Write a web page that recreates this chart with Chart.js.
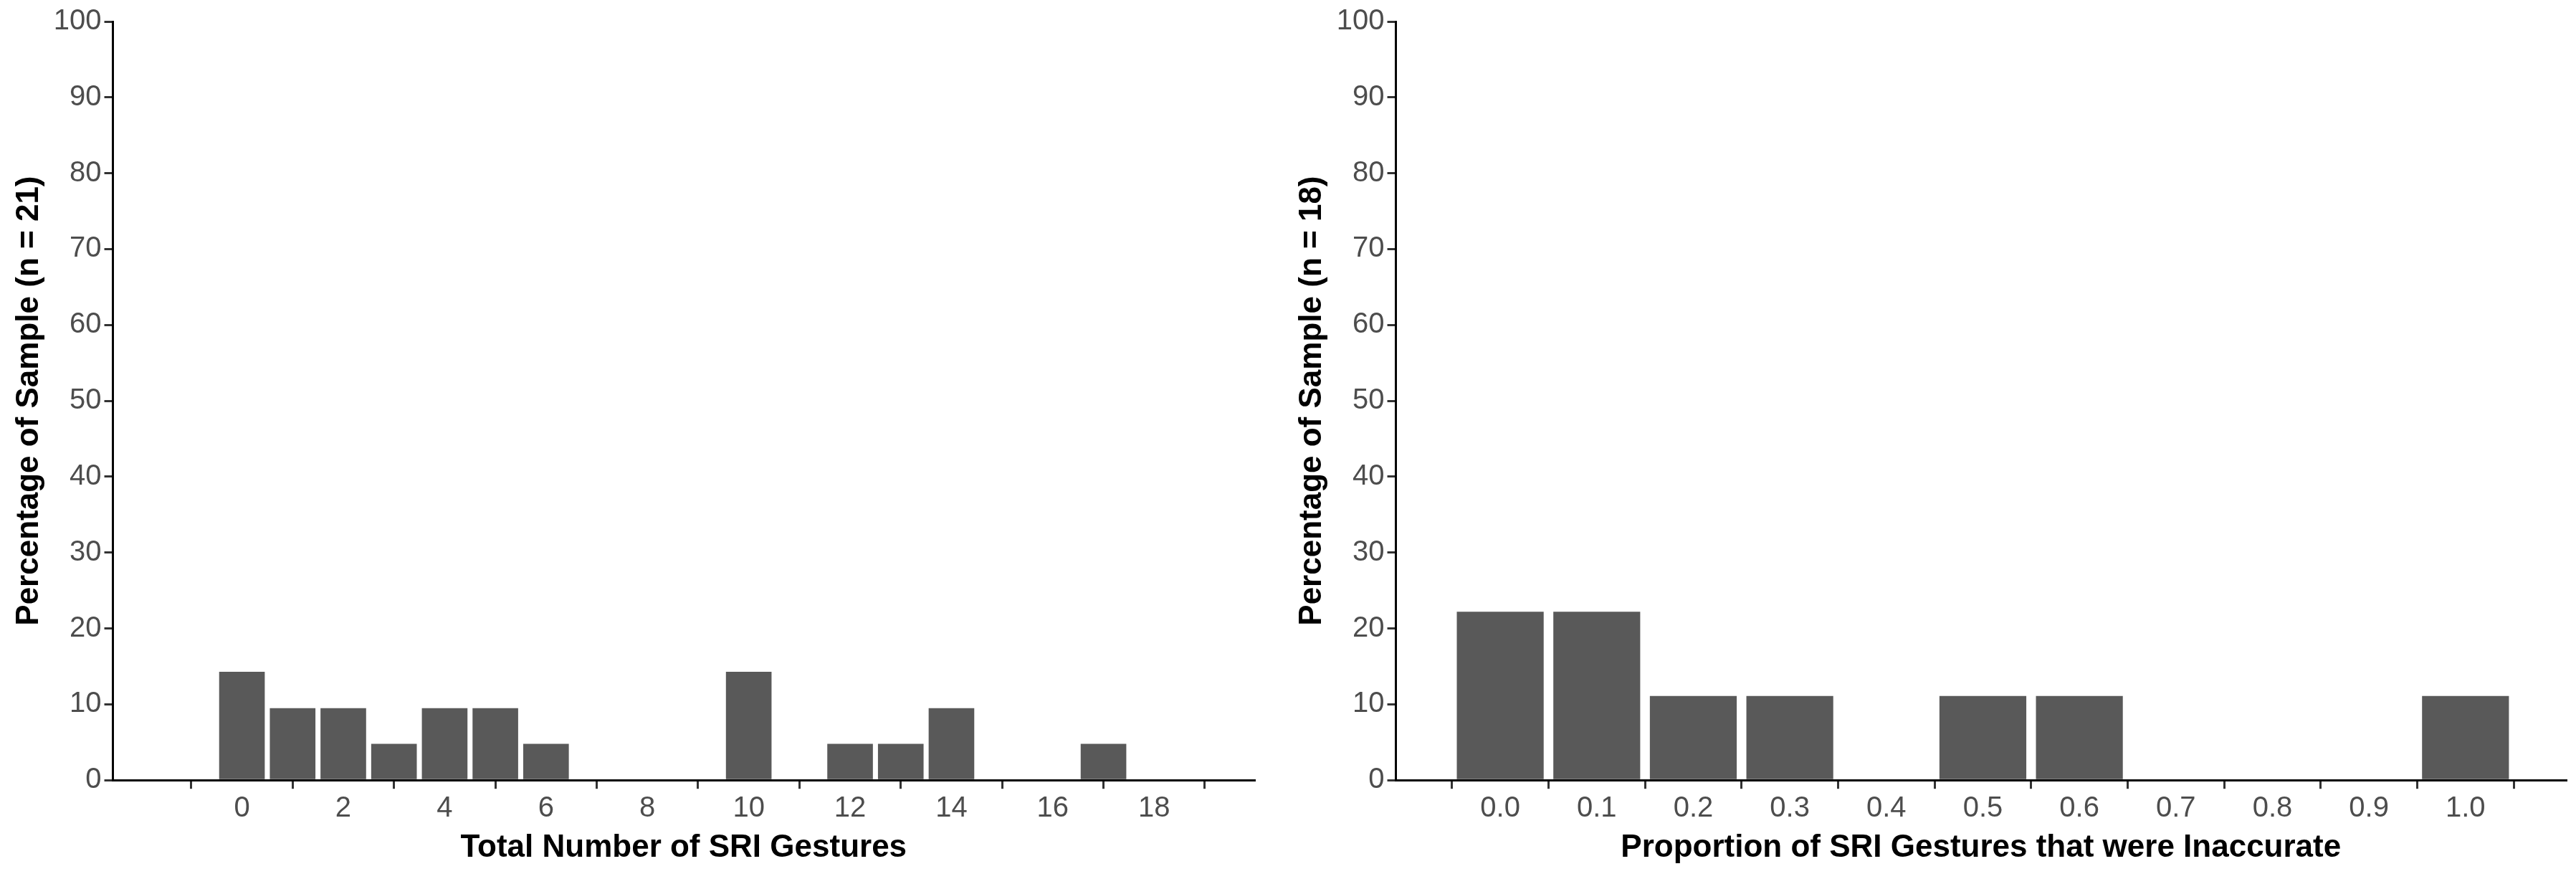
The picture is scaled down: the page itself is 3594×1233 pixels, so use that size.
<!DOCTYPE html>
<html><head><meta charset="utf-8">
<script src="https://cdn.jsdelivr.net/npm/chart.js@4.4.0/dist/chart.umd.min.js"></script>
<style>
body{margin:0;background:#fff;width:3594px;height:1233px;overflow:hidden;font-family:Arial,"Liberation Sans",sans-serif}
.box{position:absolute;top:0;height:1233px}
</style></head><body>
<div class="box" style="left:0;width:1760px"><canvas id="left"></canvas></div>
<div class="box" style="left:1790px;width:1800px"><canvas id="right"></canvas></div>
<script>
// left panel: count of gestures
const countX = [0, 1, 2, 3, 4, 5, 6, 10, 12, 13, 14, 17];
const countPct = [14.3, 9.5, 9.5, 4.8, 9.5, 9.5, 4.8, 14.3, 4.8, 4.8, 9.5, 4.8];
// right panel: proportion inaccurate (x in tenths)
const propX = [0, 1, 2, 3, 5, 6, 10];
const propPct = [22.2, 22.2, 11.1, 11.1, 11.1, 11.1, 11.1];
const yTicks = [0, 10, 20, 30, 40, 50, 60, 70, 80, 90, 100];

const tickFont = {family: 'Arial, "Liberation Sans"', size: 40};
const titleFont = {family: 'Arial, "Liberation Sans"', size: 44, weight: 'bold'};

function makeChart(id, xs, ys, xmin, xmax, step, fmt, xTitle, yTitle) {
    return new Chart(document.getElementById(id), {
        type: 'bar',
        data: {
            datasets: [{
                data: xs.map((x, i) => ({x: x, y: ys[i]})),
                backgroundColor: '#595959',
                barPercentage: 0.9,
                categoryPercentage: 1
            }]
        },
        options: {
            animation: false,
            responsive: true,
            maintainAspectRatio: false,
            layout: {padding: {top: 30, right: 10, bottom: 20, left: 10}},
            plugins: {legend: {display: false}, tooltip: {enabled: false}},
            scales: {
                x: {
                    type: 'linear', min: xmin, max: xmax,
                    afterBuildTicks: s => { s.ticks = []; for (let v = 0; v <= xmax; v += step) s.ticks.push({value: v}); },
                    ticks: {color: '#4d4d4d', font: tickFont, callback: fmt, padding: 4},
                    grid: {drawOnChartArea: false, color: '#333', tickLength: 12, lineWidth: 3},
                    border: {color: '#000', width: 3},
                    title: {display: true, text: xTitle, color: '#000', font: titleFont, padding: {top: 0}}
                },
                y: {
                    min: 0, max: 100,
                    afterBuildTicks: s => { s.ticks = yTicks.map(v => ({value: v})); },
                    ticks: {color: '#4d4d4d', font: tickFont, padding: 4},
                    grid: {drawOnChartArea: false, color: '#333', tickLength: 12, lineWidth: 3},
                    border: {color: '#000', width: 3},
                    title: {display: true, text: yTitle, color: '#000', font: titleFont, padding: {bottom: 4}}
                }
            }
        }
    });
}

makeChart('left', countX, countPct, -1.42, 18.85, 2, v => v,
    'Total Number of SRI Gestures', 'Percentage of Sample (n = 21)');
makeChart('right', propX, propPct, -0.53, 10.49, 1, v => (v / 10).toFixed(1),
    'Proportion of SRI Gestures that were Inaccurate', 'Percentage of Sample (n = 18)');
</script>
</body></html>
